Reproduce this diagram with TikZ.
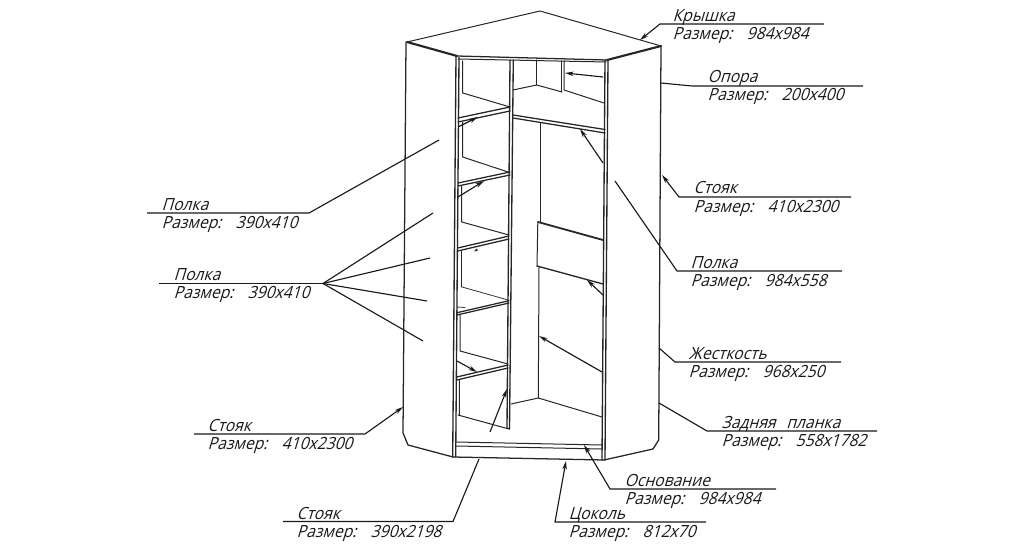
\documentclass[tikz,border=0pt]{standalone}
\usepackage{fontspec}
\usetikzlibrary{arrows.meta}
\newfontfamily\gost[FakeSlant=0.3,FakeStretch=0.93]{Open Sans}
\newcommand{\razmer}[1]{\makebox[55.5pt][l]{Размер:}#1}
\tikzset{
  part/.style={line width=0.75pt,black!85,line cap=round,line join=round},
  thin part/.style={line width=0.6pt,black!80,line cap=round,line join=round},
  heavy/.style={line width=1.6pt,black!85,line cap=round},
  leader/.style={line width=0.85pt,black!90,line join=miter},
  tip/.style={leader,{Stealth[length=6.5pt,width=3.4pt]}-},
  lbl/.style={anchor=base west,inner sep=0pt,outer sep=0pt,xshift=-1pt,font=\gost\fontsize{12.6pt}{13pt}\selectfont,text=black!90},
}
\begin{document}
\begin{tikzpicture}[x=0.75pt,y=-0.75pt]
\useasboundingbox (0,0) rectangle (1024,549);
% --- cabinet outline
\draw[part] (407,42) -- (540,11) -- (661,46);
\draw[heavy] (407,42) -- (457,56);
\draw[heavy] (607,60) -- (661,46);
\draw[part,line width=0.95pt] (457,56) -- (607,60);
\draw[part] (458,59) -- (606,62);
\draw[part,line width=0.95pt] (406,42) -- (403,433) -- (408,445) -- (453,457);
\draw[part,line width=0.95pt] (661,46) -- (658.7,440) -- (653,449) -- (604,460);
% posts
\draw[part,line width=1pt] (456,56) -- (452.7,457);
\draw[part,line width=1pt] (459,57) -- (455.7,457);
\draw[part,line width=1pt] (605,60) -- (602,460);
\draw[part,line width=1pt] (608,60) -- (605,460);
% centre panel
\draw[part,line width=1pt] (510,60) -- (507,428);
\draw[part,line width=1pt] (513.3,60) -- (509.5,429);
\draw[part] (507,428) -- (509.5,429);
% base
\draw[part] (456,442) -- (602,445);
\draw[part] (456,446) -- (602,449);
\draw[part,line width=0.95pt] (453,457) -- (604,460);
% left compartment: shelves
\draw[part] (462.7,61) -- (462.7,93) -- (510,107);
\draw[part,line width=.95pt] (458,118) -- (510,107);
\draw[part,line width=.95pt] (458,122) -- (510,111);
\draw[part] (462.7,122) -- (462.7,157) -- (508,172);
\draw[part,line width=.95pt] (458,183) -- (510,172);
\draw[part,line width=.95pt] (458,186) -- (510,175);
\draw[part] (461.7,186) -- (461.7,222) -- (509,235);
\draw[part,line width=.95pt] (457.7,248) -- (509,236);
\draw[part,line width=.95pt] (457.7,251) -- (509,239);
\draw[part] (461,251) -- (461,286.7);
\draw[thin part] (461,286.7) -- (508,300);
\draw[part,line width=.95pt] (457,312.7) -- (509,300.7);
\draw[part,line width=.95pt] (457,315) -- (509,303);
\draw[part] (460,315) -- (460,351) -- (508,364);
\draw[part,line width=.95pt] (456.7,377) -- (508,365);
\draw[part,line width=.95pt] (456.7,380) -- (508,368);
\draw[part] (459.3,380) -- (459.3,415) -- (458,415) -- (509,429);
% right compartment: upper
\draw[part] (536.7,60) -- (536.7,85);
\draw[part] (513,90) -- (536.7,85) -- (562,92);
\draw[part] (561.7,61) -- (561.7,92);
\draw[part] (564,61) -- (564,90) -- (604,103);
\draw[part,line width=.95pt] (513,115) -- (605,129.5);
\draw[part,line width=.95pt] (513,118) -- (605,133);
% right compartment: lower
\draw[part] (540,123) -- (540,222);
\draw[heavy,line width=1.35pt] (538,222) -- (603,240);
\draw[part] (537.8,222) -- (537,266);
\draw[part,line width=1pt] (537,266) -- (603,284);
\draw[part] (603,284) -- (603,240);
\draw[part] (539,267) -- (538.3,398);
\draw[part] (511,404) -- (538.3,398) -- (602,417);
% small arrow remnants beside shelves
\draw[thin part] (457,307) -- (465,307.5);
\fill[black!85] (474,251.5) -- (478,250.5) -- (476.5,248.5) -- cycle;
% --- inner arrows
\coordinate (a1s) at (603,77);  \coordinate (a1e) at (565,73);
\coordinate (a2s) at (458,127); \coordinate (a2e) at (478,117);
\coordinate (a3s) at (603,163); \coordinate (a3e) at (580,129);
\coordinate (a4s) at (458,197); \coordinate (a4e) at (484,181);
\coordinate (a5s) at (603,295); \coordinate (a5e) at (587,280);
\coordinate (a6s) at (602,372); \coordinate (a6e) at (539,336);
\coordinate (a7s) at (457,361); \coordinate (a7e) at (477,372);
\coordinate (a8s) at (490,432); \coordinate (a8e) at (507,389);
\draw[tip] (a1e) -- (a1s);
\draw[tip] (a2e) -- (a2s);
\draw[tip] (a3e) -- (a3s);
\draw[tip] (a4e) -- (a4s);
\draw[tip] (a5e) -- (a5s);
\draw[tip] (a6e) -- (a6s);
\draw[tip] (a7e) -- (a7s);
\draw[tip] (a8e) -- (a8s);
% --- leader lines
\coordinate (kr0) at (640,40); \coordinate (kr1) at (660,24); \coordinate (kr2) at (824,24);
\draw[tip] (kr0) -- (kr1) -- (kr2);
\coordinate (op0) at (661,83); \coordinate (op1) at (692,86); \coordinate (op2) at (863,86);
\draw[leader] (op0) -- (op1) -- (op2);
\coordinate (st0) at (662,175); \coordinate (st1) at (679,197); \coordinate (st2) at (851,197);
\draw[tip] (st0) -- (st1) -- (st2);
\coordinate (pr0) at (615,181); \coordinate (pr1) at (677,271); \coordinate (pr2) at (842,271);
\draw[leader] (pr0) -- (pr1) -- (pr2);
\coordinate (zh0) at (659,348); \coordinate (zh1) at (675,362); \coordinate (zh2) at (841,362);
\draw[leader] (zh0) -- (zh1) -- (zh2);
\coordinate (za0) at (659,403); \coordinate (za1) at (707,431); \coordinate (za2) at (877,431);
\draw[leader] (za0) -- (za1) -- (za2);
\coordinate (os0) at (584,445); \coordinate (os1) at (610,489); \coordinate (os2) at (776,489);
\draw[tip] (os0) -- (os1) -- (os2);
\coordinate (ts0) at (566,461); \coordinate (ts1) at (555,522); \coordinate (ts2) at (706,522);
\draw[tip] (ts0) -- (ts1) -- (ts2);
\coordinate (sb0) at (479,459); \coordinate (sb1) at (453,521.5); \coordinate (sb2) at (283,521.5);
\draw[leader] (sb0) -- (sb1) -- (sb2);
\coordinate (sl0) at (403,407); \coordinate (sl1) at (365,434); \coordinate (sl2) at (194,434);
\draw[tip] (sl0) -- (sl1) -- (sl2);
\coordinate (pl0) at (439,140); \coordinate (pl1) at (309,213); \coordinate (pl2) at (147,213);
\draw[leader] (pl0) -- (pl1) -- (pl2);
\coordinate (fc) at (323,283.5); \coordinate (fl) at (159,283.5);
\coordinate (f1) at (433,213); \coordinate (f2) at (430,258); \coordinate (f3) at (427,301); \coordinate (f4) at (423,341);
\draw[leader] (fl) -- (fc);
\draw[leader] (fc) -- (f1);
\draw[leader] (fc) -- (f2);
\draw[leader] (fc) -- (f3);
\draw[leader] (fc) -- (f4);
% --- labels
\node[lbl] (tkr) at (674,22) {Крышка};
\node[lbl] (skr) at (674,40) {\razmer{984x984}};
\node[lbl] (top) at (709,83) {Опора};
\node[lbl] (sop) at (709,101) {\razmer{200x400}};
\node[lbl] (tst) at (695,194) {Стояк};
\node[lbl] (sst) at (695,212) {\razmer{410x2300}};
\node[lbl] (tpr) at (692,268) {Полка};
\node[lbl] (spr) at (692,286) {\razmer{984x558}};
\node[lbl] (tzh) at (690,359) {Жесткость};
\node[lbl] (szh) at (690,377) {\razmer{968x250}};
\node[lbl] (tza) at (723,428) {Задняя\hspace{8pt}планка};
\node[lbl] (sza) at (723,446) {\razmer{558x1782}};
\node[lbl] (tos) at (626,486) {Основание};
\node[lbl] (sos) at (626,504) {\razmer{984x984}};
\node[lbl] (tts) at (570,519) {Цоколь};
\node[lbl] (sts) at (570,537) {\razmer{812x70}};
\node[lbl] (tsb) at (298,519) {Стояк};
\node[lbl] (ssb) at (298,537) {\razmer{390x2198}};
\node[lbl] (tsl) at (209,431) {Стояк};
\node[lbl] (ssl) at (209,449) {\razmer{410x2300}};
\node[lbl] (tpl) at (163,210) {Полка};
\node[lbl] (spl) at (163,228) {\razmer{390x410}};
\node[lbl] (tfa) at (175,280) {Полка};
\node[lbl] (sfa) at (175,298) {\razmer{390x410}};
\end{tikzpicture}
\end{document}
